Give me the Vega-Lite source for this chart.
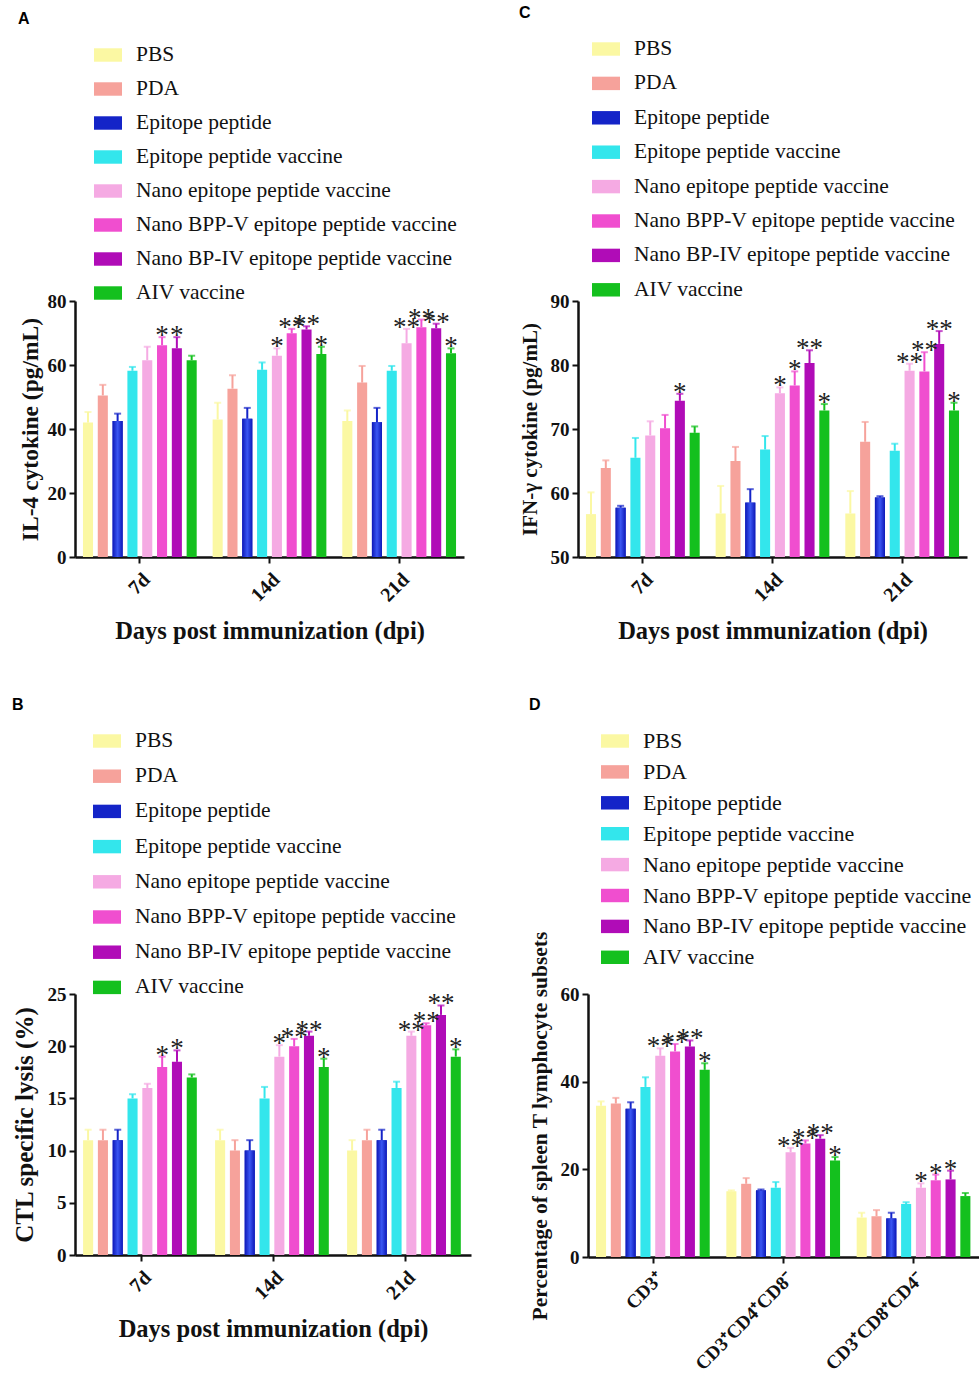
{
  "$schema": "https://vega.github.io/schema/vega-lite/v6.json",
  "background": "white",
  "padding": {"left": 11, "top": 5, "right": 0, "bottom": 0},
  "config": {
    "view": {"stroke": null},
    "font": "Liberation Serif",
    "range": {"category": ["#FBF8A3", "#F6A29B", "#1424C8", "#33E6EC", "#F5AAE3", "#F04ECF", "#B00CB7", "#14C01E"]},
    "axis": {"labelFont": "Liberation Serif", "labelFontWeight": "bold", "labelFontSize": 19, "labelColor": "#111", "titleFont": "Liberation Serif", "titleFontWeight": "bold", "titleFontSize": 21, "titleColor": "#111", "domainColor": "#111", "domainWidth": 2.5, "tickColor": "#111", "tickWidth": 2, "tickSize": 6, "grid": false, "labelPadding": 3},
    "axisY": {"titlePadding": 10},
    "axisX": {"labelAngle": -45, "titlePadding": 14, "labelPadding": 6, "labelFontSize": 20, "titleFontSize": 24.5},
    "legend": {"labelFont": "Liberation Serif", "labelFontSize": 21.5, "labelColor": "#111", "symbolType": "M-1,-0.48H1V0.48H-1Z", "symbolSize": 784, "symbolStrokeWidth": 0, "symbolOpacity": 1, "rowPadding": 9, "labelOffset": 14, "labelLimit": 600, "direction": "vertical"},
    "title": {"font": "Liberation Sans", "fontSize": 16, "fontWeight": "bold", "anchor": "start", "frame": "bounds", "offset": 14, "color": "#000"},
    "text": {"font": "Liberation Serif"}
  },
  "datasets": {
    "d": [
      {"p": "A", "g": "7d", "t": "PBS", "v": 42, "e": 45.3, "s": ""},
      {"p": "A", "g": "7d", "t": "PDA", "v": 50.5, "e": 53.8, "s": ""},
      {"p": "A", "g": "7d", "t": "Epitope peptide", "v": 42.5, "e": 44.8, "s": ""},
      {"p": "A", "g": "7d", "t": "Epitope peptide vaccine", "v": 58.2, "e": 59.4, "s": ""},
      {"p": "A", "g": "7d", "t": "Nano epitope peptide vaccine", "v": 61.5, "e": 65.7, "s": ""},
      {"p": "A", "g": "7d", "t": "Nano BPP-V epitope peptide vaccine", "v": 66.2, "e": 68.7, "s": "*"},
      {"p": "A", "g": "7d", "t": "Nano BP-IV epitope peptide vaccine", "v": 65.2, "e": 68.7, "s": "*"},
      {"p": "A", "g": "7d", "t": "AIV vaccine", "v": 61.5, "e": 62.9, "s": ""},
      {"p": "A", "g": "14d", "t": "PBS", "v": 43, "e": 48.2, "s": ""},
      {"p": "A", "g": "14d", "t": "PDA", "v": 52.6, "e": 56.8, "s": ""},
      {"p": "A", "g": "14d", "t": "Epitope peptide", "v": 43.2, "e": 46.6, "s": ""},
      {"p": "A", "g": "14d", "t": "Epitope peptide vaccine", "v": 58.5, "e": 60.8, "s": ""},
      {"p": "A", "g": "14d", "t": "Nano epitope peptide vaccine", "v": 62.9, "e": 65.2, "s": "*"},
      {"p": "A", "g": "14d", "t": "Nano BPP-V epitope peptide vaccine", "v": 69.9, "e": 71.3, "s": "**"},
      {"p": "A", "g": "14d", "t": "Nano BP-IV epitope peptide vaccine", "v": 71.1, "e": 72.1, "s": "**"},
      {"p": "A", "g": "14d", "t": "AIV vaccine", "v": 63.4, "e": 65.7, "s": "*"},
      {"p": "A", "g": "21d", "t": "PBS", "v": 42.5, "e": 45.8, "s": ""},
      {"p": "A", "g": "21d", "t": "PDA", "v": 54.5, "e": 59.7, "s": ""},
      {"p": "A", "g": "21d", "t": "Epitope peptide", "v": 42.1, "e": 46.6, "s": ""},
      {"p": "A", "g": "21d", "t": "Epitope peptide vaccine", "v": 58.2, "e": 59.7, "s": ""},
      {"p": "A", "g": "21d", "t": "Nano epitope peptide vaccine", "v": 66.8, "e": 71.3, "s": "**"},
      {"p": "A", "g": "21d", "t": "Nano BPP-V epitope peptide vaccine", "v": 71.8, "e": 74.2, "s": "**"},
      {"p": "A", "g": "21d", "t": "Nano BP-IV epitope peptide vaccine", "v": 71.5, "e": 72.9, "s": "**"},
      {"p": "A", "g": "21d", "t": "AIV vaccine", "v": 63.7, "e": 65.2, "s": "*"},
      {"p": "C", "g": "7d", "t": "PBS", "v": 56.7, "e": 60.1, "s": ""},
      {"p": "C", "g": "7d", "t": "PDA", "v": 63.9, "e": 65.1, "s": ""},
      {"p": "C", "g": "7d", "t": "Epitope peptide", "v": 57.7, "e": 58.0, "s": ""},
      {"p": "C", "g": "7d", "t": "Epitope peptide vaccine", "v": 65.5, "e": 68.6, "s": ""},
      {"p": "C", "g": "7d", "t": "Nano epitope peptide vaccine", "v": 69.0, "e": 71.2, "s": ""},
      {"p": "C", "g": "7d", "t": "Nano BPP-V epitope peptide vaccine", "v": 70.1, "e": 72.2, "s": ""},
      {"p": "C", "g": "7d", "t": "Nano BP-IV epitope peptide vaccine", "v": 74.4, "e": 75.5, "s": "*"},
      {"p": "C", "g": "7d", "t": "AIV vaccine", "v": 69.4, "e": 70.4, "s": ""},
      {"p": "C", "g": "14d", "t": "PBS", "v": 56.8, "e": 61.1, "s": ""},
      {"p": "C", "g": "14d", "t": "PDA", "v": 65.0, "e": 67.2, "s": ""},
      {"p": "C", "g": "14d", "t": "Epitope peptide", "v": 58.5, "e": 60.6, "s": ""},
      {"p": "C", "g": "14d", "t": "Epitope peptide vaccine", "v": 66.8, "e": 68.9, "s": ""},
      {"p": "C", "g": "14d", "t": "Nano epitope peptide vaccine", "v": 75.6, "e": 76.5, "s": "*"},
      {"p": "C", "g": "14d", "t": "Nano BPP-V epitope peptide vaccine", "v": 76.8, "e": 79.0, "s": "*"},
      {"p": "C", "g": "14d", "t": "Nano BP-IV epitope peptide vaccine", "v": 80.3, "e": 82.3, "s": "**"},
      {"p": "C", "g": "14d", "t": "AIV vaccine", "v": 72.9, "e": 73.9, "s": "*"},
      {"p": "C", "g": "21d", "t": "PBS", "v": 56.8, "e": 60.3, "s": ""},
      {"p": "C", "g": "21d", "t": "PDA", "v": 68.0, "e": 71.1, "s": ""},
      {"p": "C", "g": "21d", "t": "Epitope peptide", "v": 59.3, "e": 59.5, "s": ""},
      {"p": "C", "g": "21d", "t": "Epitope peptide vaccine", "v": 66.6, "e": 67.7, "s": ""},
      {"p": "C", "g": "21d", "t": "Nano epitope peptide vaccine", "v": 79.1, "e": 80.2, "s": "**"},
      {"p": "C", "g": "21d", "t": "Nano BPP-V epitope peptide vaccine", "v": 79.0, "e": 82.0, "s": "**"},
      {"p": "C", "g": "21d", "t": "Nano BP-IV epitope peptide vaccine", "v": 83.3, "e": 85.3, "s": "**"},
      {"p": "C", "g": "21d", "t": "AIV vaccine", "v": 72.9, "e": 74.1, "s": "*"},
      {"p": "B", "g": "7d", "t": "PBS", "v": 11, "e": 12, "s": ""},
      {"p": "B", "g": "7d", "t": "PDA", "v": 11, "e": 12, "s": ""},
      {"p": "B", "g": "7d", "t": "Epitope peptide", "v": 11, "e": 12, "s": ""},
      {"p": "B", "g": "7d", "t": "Epitope peptide vaccine", "v": 15, "e": 15.4, "s": ""},
      {"p": "B", "g": "7d", "t": "Nano epitope peptide vaccine", "v": 16, "e": 16.4, "s": ""},
      {"p": "B", "g": "7d", "t": "Nano BPP-V epitope peptide vaccine", "v": 18, "e": 19, "s": "*"},
      {"p": "B", "g": "7d", "t": "Nano BP-IV epitope peptide vaccine", "v": 18.5, "e": 19.6, "s": "*"},
      {"p": "B", "g": "7d", "t": "AIV vaccine", "v": 17, "e": 17.3, "s": ""},
      {"p": "B", "g": "14d", "t": "PBS", "v": 11, "e": 12, "s": ""},
      {"p": "B", "g": "14d", "t": "PDA", "v": 10, "e": 11, "s": ""},
      {"p": "B", "g": "14d", "t": "Epitope peptide", "v": 10, "e": 11, "s": ""},
      {"p": "B", "g": "14d", "t": "Epitope peptide vaccine", "v": 15, "e": 16.1, "s": ""},
      {"p": "B", "g": "14d", "t": "Nano epitope peptide vaccine", "v": 19, "e": 20.1, "s": "*"},
      {"p": "B", "g": "14d", "t": "Nano BPP-V epitope peptide vaccine", "v": 20, "e": 20.7, "s": "**"},
      {"p": "B", "g": "14d", "t": "Nano BP-IV epitope peptide vaccine", "v": 21, "e": 21.4, "s": "**"},
      {"p": "B", "g": "14d", "t": "AIV vaccine", "v": 18, "e": 18.8, "s": "*"},
      {"p": "B", "g": "21d", "t": "PBS", "v": 10, "e": 11, "s": ""},
      {"p": "B", "g": "21d", "t": "PDA", "v": 11, "e": 12, "s": ""},
      {"p": "B", "g": "21d", "t": "Epitope peptide", "v": 11, "e": 12, "s": ""},
      {"p": "B", "g": "21d", "t": "Epitope peptide vaccine", "v": 16, "e": 16.6, "s": ""},
      {"p": "B", "g": "21d", "t": "Nano epitope peptide vaccine", "v": 21, "e": 21.4, "s": "**"},
      {"p": "B", "g": "21d", "t": "Nano BPP-V epitope peptide vaccine", "v": 22, "e": 22.2, "s": "**"},
      {"p": "B", "g": "21d", "t": "Nano BP-IV epitope peptide vaccine", "v": 23, "e": 23.9, "s": "**"},
      {"p": "B", "g": "21d", "t": "AIV vaccine", "v": 19, "e": 19.7, "s": "*"},
      {"p": "D", "g": "CD3⁺", "t": "PBS", "v": 34.5, "e": 35.5, "s": ""},
      {"p": "D", "g": "CD3⁺", "t": "PDA", "v": 35, "e": 36.3, "s": ""},
      {"p": "D", "g": "CD3⁺", "t": "Epitope peptide", "v": 33.8, "e": 35.3, "s": ""},
      {"p": "D", "g": "CD3⁺", "t": "Epitope peptide vaccine", "v": 38.8, "e": 41, "s": ""},
      {"p": "D", "g": "CD3⁺", "t": "Nano epitope peptide vaccine", "v": 45.9, "e": 47.6, "s": "**"},
      {"p": "D", "g": "CD3⁺", "t": "Nano BPP-V epitope peptide vaccine", "v": 46.9, "e": 48.6, "s": "**"},
      {"p": "D", "g": "CD3⁺", "t": "Nano BP-IV epitope peptide vaccine", "v": 48, "e": 49.4, "s": "**"},
      {"p": "D", "g": "CD3⁺", "t": "AIV vaccine", "v": 42.7, "e": 44.2, "s": "*"},
      {"p": "D", "g": "CD3⁺CD4⁺CD8⁻", "t": "PBS", "v": 15, "e": 15.2, "s": ""},
      {"p": "D", "g": "CD3⁺CD4⁺CD8⁻", "t": "PDA", "v": 16.7, "e": 18, "s": ""},
      {"p": "D", "g": "CD3⁺CD4⁺CD8⁻", "t": "Epitope peptide", "v": 15.2, "e": 15.4, "s": ""},
      {"p": "D", "g": "CD3⁺CD4⁺CD8⁻", "t": "Epitope peptide vaccine", "v": 15.8, "e": 17.1, "s": ""},
      {"p": "D", "g": "CD3⁺CD4⁺CD8⁻", "t": "Nano epitope peptide vaccine", "v": 23.9, "e": 24.9, "s": "**"},
      {"p": "D", "g": "CD3⁺CD4⁺CD8⁻", "t": "Nano BPP-V epitope peptide vaccine", "v": 25.9, "e": 26.6, "s": "**"},
      {"p": "D", "g": "CD3⁺CD4⁺CD8⁻", "t": "Nano BP-IV epitope peptide vaccine", "v": 27, "e": 27.8, "s": "**"},
      {"p": "D", "g": "CD3⁺CD4⁺CD8⁻", "t": "AIV vaccine", "v": 22, "e": 22.8, "s": "*"},
      {"p": "D", "g": "CD3⁺CD8⁺CD4⁻", "t": "PBS", "v": 9, "e": 10.1, "s": ""},
      {"p": "D", "g": "CD3⁺CD8⁺CD4⁻", "t": "PDA", "v": 9.3, "e": 10.7, "s": ""},
      {"p": "D", "g": "CD3⁺CD8⁺CD4⁻", "t": "Epitope peptide", "v": 8.8, "e": 10.1, "s": ""},
      {"p": "D", "g": "CD3⁺CD8⁺CD4⁻", "t": "Epitope peptide vaccine", "v": 12.1, "e": 12.5, "s": ""},
      {"p": "D", "g": "CD3⁺CD8⁺CD4⁻", "t": "Nano epitope peptide vaccine", "v": 15.8, "e": 16.8, "s": "*"},
      {"p": "D", "g": "CD3⁺CD8⁺CD4⁻", "t": "Nano BPP-V epitope peptide vaccine", "v": 17.5, "e": 18.8, "s": "*"},
      {"p": "D", "g": "CD3⁺CD8⁺CD4⁻", "t": "Nano BP-IV epitope peptide vaccine", "v": 17.7, "e": 19.7, "s": "*"},
      {"p": "D", "g": "CD3⁺CD8⁺CD4⁻", "t": "AIV vaccine", "v": 13.9, "e": 14.6, "s": ""}
    ]
  },
  "data": {"name": "d"},
  "resolve": {"scale": {"color": "independent"}, "legend": {"color": "independent"}},
  "spacing": 54,
  "vconcat": [
    {
      "resolve": {"scale": {"color": "independent"}, "legend": {"color": "independent"}},
      "spacing": 55,
      "hconcat": [
        {
          "title": {"text": "A"},
          "width": 389, "height": 256,
          "transform": [{"filter": "datum.p === 'A'"}],
          "encoding": {
            "x": {"field": "g", "type": "nominal", "sort": ["7d", "14d", "21d"], "scale": {"paddingInner": 0.1, "paddingOuter": 0.05}, "title": "Days post immunization (dpi)"},
            "xOffset": {"field": "t", "type": "nominal", "sort": ["PBS", "PDA", "Epitope peptide", "Epitope peptide vaccine", "Nano epitope peptide vaccine", "Nano BPP-V epitope peptide vaccine", "Nano BP-IV epitope peptide vaccine", "AIV vaccine"], "scale": {"paddingInner": 0.32, "paddingOuter": 0.1}}
          },
          "layer": [
            {"mark": {"type": "bar"}, "encoding": {
              "y": {"field": "v", "type": "quantitative", "scale": {"domain": [0, 80], "nice": false}, "axis": {"values": [0, 20, 40, 60, 80], "titleFontSize": 23.5, "titlePadding": 5}, "title": "IL-4 cytokine (pg/mL)"},
              "color": {"field": "t", "type": "nominal", "sort": ["PBS", "PDA", "Epitope peptide", "Epitope peptide vaccine", "Nano epitope peptide vaccine", "Nano BPP-V epitope peptide vaccine", "Nano BP-IV epitope peptide vaccine", "AIV vaccine"], "legend": {"title": null, "orient": "none", "legendX": 19, "legendY": -260, "rowPadding": 9}}}},
            {"transform": [{"filter": "datum.t === 'Epitope peptide'"}], "mark": {"type": "bar", "color": {"gradient": "linear", "x1": 0, "x2": 1, "y1": 0, "y2": 0, "stops": [{"offset": 0, "color": "#0D18B8"}, {"offset": 0.5, "color": "#3A56F2"}, {"offset": 1, "color": "#0D18B8"}]}}, "encoding": {
              "y": {"field": "v", "type": "quantitative", "title": "IL-4 cytokine (pg/mL)"}}},
            {"mark": {"type": "rule", "strokeWidth": 2}, "encoding": {
              "y": {"field": "v", "type": "quantitative", "title": "IL-4 cytokine (pg/mL)"}, "y2": {"field": "e"},
              "color": {"field": "t", "type": "nominal", "sort": ["PBS", "PDA", "Epitope peptide", "Epitope peptide vaccine", "Nano epitope peptide vaccine", "Nano BPP-V epitope peptide vaccine", "Nano BP-IV epitope peptide vaccine", "AIV vaccine"], "legend": null}}},
            {"mark": {"type": "tick", "thickness": 2, "size": 7}, "encoding": {
              "y": {"field": "e", "type": "quantitative", "title": "IL-4 cytokine (pg/mL)"},
              "color": {"field": "t", "type": "nominal", "sort": ["PBS", "PDA", "Epitope peptide", "Epitope peptide vaccine", "Nano epitope peptide vaccine", "Nano BPP-V epitope peptide vaccine", "Nano BP-IV epitope peptide vaccine", "AIV vaccine"], "legend": null}}},
            {"transform": [{"filter": "datum.s !== ''"}], "mark": {"type": "text", "fontSize": 27, "baseline": "alphabetic", "dy": 7, "color": "#222"}, "encoding": {
              "y": {"field": "e", "type": "quantitative", "title": "IL-4 cytokine (pg/mL)"},
              "text": {"field": "s"}}}
          ]
        },
        {
          "title": {"text": "C"},
          "width": 389, "height": 256,
          "transform": [{"filter": "datum.p === 'C'"}],
          "encoding": {
            "x": {"field": "g", "type": "nominal", "sort": ["7d", "14d", "21d"], "scale": {"paddingInner": 0.1, "paddingOuter": 0.05}, "title": "Days post immunization (dpi)"},
            "xOffset": {"field": "t", "type": "nominal", "sort": ["PBS", "PDA", "Epitope peptide", "Epitope peptide vaccine", "Nano epitope peptide vaccine", "Nano BPP-V epitope peptide vaccine", "Nano BP-IV epitope peptide vaccine", "AIV vaccine"], "scale": {"paddingInner": 0.32, "paddingOuter": 0.1}}
          },
          "layer": [
            {"mark": {"type": "bar"}, "encoding": {
              "y": {"field": "v", "type": "quantitative", "scale": {"domain": [50, 90], "nice": false, "zero": false}, "axis": {"values": [50, 60, 70, 80, 90]}, "title": "IFN-γ cytokine (pg/mL)"},
              "y2": {"datum": 50},
              "color": {"field": "t", "type": "nominal", "sort": ["PBS", "PDA", "Epitope peptide", "Epitope peptide vaccine", "Nano epitope peptide vaccine", "Nano BPP-V epitope peptide vaccine", "Nano BP-IV epitope peptide vaccine", "AIV vaccine"], "legend": {"title": null, "orient": "none", "legendX": 14, "legendY": -266, "rowPadding": 9.4}}}},
            {"transform": [{"filter": "datum.t === 'Epitope peptide'"}], "mark": {"type": "bar", "color": {"gradient": "linear", "x1": 0, "x2": 1, "y1": 0, "y2": 0, "stops": [{"offset": 0, "color": "#0D18B8"}, {"offset": 0.5, "color": "#3A56F2"}, {"offset": 1, "color": "#0D18B8"}]}}, "encoding": {
              "y": {"field": "v", "type": "quantitative", "title": "IFN-γ cytokine (pg/mL)"}, "y2": {"datum": 50}}},
            {"mark": {"type": "rule", "strokeWidth": 2}, "encoding": {
              "y": {"field": "v", "type": "quantitative", "title": "IFN-γ cytokine (pg/mL)"}, "y2": {"field": "e"},
              "color": {"field": "t", "type": "nominal", "sort": ["PBS", "PDA", "Epitope peptide", "Epitope peptide vaccine", "Nano epitope peptide vaccine", "Nano BPP-V epitope peptide vaccine", "Nano BP-IV epitope peptide vaccine", "AIV vaccine"], "legend": null}}},
            {"mark": {"type": "tick", "thickness": 2, "size": 7}, "encoding": {
              "y": {"field": "e", "type": "quantitative", "title": "IFN-γ cytokine (pg/mL)"},
              "color": {"field": "t", "type": "nominal", "sort": ["PBS", "PDA", "Epitope peptide", "Epitope peptide vaccine", "Nano epitope peptide vaccine", "Nano BPP-V epitope peptide vaccine", "Nano BP-IV epitope peptide vaccine", "AIV vaccine"], "legend": null}}},
            {"transform": [{"filter": "datum.s !== ''"}], "mark": {"type": "text", "fontSize": 27, "baseline": "alphabetic", "dy": 7, "color": "#222"}, "encoding": {
              "y": {"field": "e", "type": "quantitative", "title": "IFN-γ cytokine (pg/mL)"},
              "text": {"field": "s"}}}
          ]
        }
      ]
    },
    {
      "resolve": {"scale": {"color": "independent"}, "legend": {"color": "independent"}},
      "spacing": 57,
      "hconcat": [
        {
          "title": {"text": "B"},
          "width": 396, "height": 261,
          "transform": [{"filter": "datum.p === 'B'"}],
          "encoding": {
            "x": {"field": "g", "type": "nominal", "sort": ["7d", "14d", "21d"], "scale": {"paddingInner": 0.1, "paddingOuter": 0.05}, "title": "Days post immunization (dpi)"},
            "xOffset": {"field": "t", "type": "nominal", "sort": ["PBS", "PDA", "Epitope peptide", "Epitope peptide vaccine", "Nano epitope peptide vaccine", "Nano BPP-V epitope peptide vaccine", "Nano BP-IV epitope peptide vaccine", "AIV vaccine"], "scale": {"paddingInner": 0.32, "paddingOuter": 0.1}}
          },
          "layer": [
            {"mark": {"type": "bar"}, "encoding": {
              "y": {"field": "v", "type": "quantitative", "scale": {"domain": [0, 25], "nice": false}, "axis": {"values": [0, 5, 10, 15, 20, 25], "titleFontSize": 25}, "title": "CTL specific  lysis (%)"},
              "color": {"field": "t", "type": "nominal", "sort": ["PBS", "PDA", "Epitope peptide", "Epitope peptide vaccine", "Nano epitope peptide vaccine", "Nano BPP-V epitope peptide vaccine", "Nano BP-IV epitope peptide vaccine", "AIV vaccine"], "legend": {"title": null, "orient": "none", "legendX": 18, "legendY": -267, "rowPadding": 10.2}}}},
            {"transform": [{"filter": "datum.t === 'Epitope peptide'"}], "mark": {"type": "bar", "color": {"gradient": "linear", "x1": 0, "x2": 1, "y1": 0, "y2": 0, "stops": [{"offset": 0, "color": "#0D18B8"}, {"offset": 0.5, "color": "#3A56F2"}, {"offset": 1, "color": "#0D18B8"}]}}, "encoding": {
              "y": {"field": "v", "type": "quantitative", "title": "CTL specific  lysis (%)"}}},
            {"mark": {"type": "rule", "strokeWidth": 2}, "encoding": {
              "y": {"field": "v", "type": "quantitative", "title": "CTL specific  lysis (%)"}, "y2": {"field": "e"},
              "color": {"field": "t", "type": "nominal", "sort": ["PBS", "PDA", "Epitope peptide", "Epitope peptide vaccine", "Nano epitope peptide vaccine", "Nano BPP-V epitope peptide vaccine", "Nano BP-IV epitope peptide vaccine", "AIV vaccine"], "legend": null}}},
            {"mark": {"type": "tick", "thickness": 2, "size": 7}, "encoding": {
              "y": {"field": "e", "type": "quantitative", "title": "CTL specific  lysis (%)"},
              "color": {"field": "t", "type": "nominal", "sort": ["PBS", "PDA", "Epitope peptide", "Epitope peptide vaccine", "Nano epitope peptide vaccine", "Nano BPP-V epitope peptide vaccine", "Nano BP-IV epitope peptide vaccine", "AIV vaccine"], "legend": null}}},
            {"transform": [{"filter": "datum.s !== ''"}], "mark": {"type": "text", "fontSize": 27, "baseline": "alphabetic", "dy": 7, "color": "#222"}, "encoding": {
              "y": {"field": "e", "type": "quantitative", "title": "CTL specific  lysis (%)"},
              "text": {"field": "s"}}}
          ]
        },
        {
          "title": {"text": "D"},
          "width": 391, "height": 263,
          "transform": [{"filter": "datum.p === 'D'"}],
          "encoding": {
            "x": {"field": "g", "type": "nominal", "sort": ["CD3⁺", "CD3⁺CD4⁺CD8⁻", "CD3⁺CD8⁺CD4⁻"], "scale": {"paddingInner": 0.1, "paddingOuter": 0.05}, "title": null, "axis": {"labelFontSize": 19}},
            "xOffset": {"field": "t", "type": "nominal", "sort": ["PBS", "PDA", "Epitope peptide", "Epitope peptide vaccine", "Nano epitope peptide vaccine", "Nano BPP-V epitope peptide vaccine", "Nano BP-IV epitope peptide vaccine", "AIV vaccine"], "scale": {"paddingInner": 0.32, "paddingOuter": 0.1}}
          },
          "layer": [
            {"mark": {"type": "bar"}, "encoding": {
              "y": {"field": "v", "type": "quantitative", "scale": {"domain": [0, 60], "nice": false}, "axis": {"values": [0, 20, 40, 60], "titleFontSize": 21.5, "titlePadding": 9}, "title": "Percentage of spleen T lymphocyte subsets"},
              "color": {"field": "t", "type": "nominal", "sort": ["PBS", "PDA", "Epitope peptide", "Epitope peptide vaccine", "Nano epitope peptide vaccine", "Nano BPP-V epitope peptide vaccine", "Nano BP-IV epitope peptide vaccine", "AIV vaccine"], "legend": {"title": null, "orient": "none", "legendX": 13, "legendY": -267, "rowPadding": 5.9, "labelFontSize": 22}}}},
            {"transform": [{"filter": "datum.t === 'Epitope peptide'"}], "mark": {"type": "bar", "color": {"gradient": "linear", "x1": 0, "x2": 1, "y1": 0, "y2": 0, "stops": [{"offset": 0, "color": "#0D18B8"}, {"offset": 0.5, "color": "#3A56F2"}, {"offset": 1, "color": "#0D18B8"}]}}, "encoding": {
              "y": {"field": "v", "type": "quantitative", "title": "Percentage of spleen T lymphocyte subsets"}}},
            {"mark": {"type": "rule", "strokeWidth": 2}, "encoding": {
              "y": {"field": "v", "type": "quantitative", "title": "Percentage of spleen T lymphocyte subsets"}, "y2": {"field": "e"},
              "color": {"field": "t", "type": "nominal", "sort": ["PBS", "PDA", "Epitope peptide", "Epitope peptide vaccine", "Nano epitope peptide vaccine", "Nano BPP-V epitope peptide vaccine", "Nano BP-IV epitope peptide vaccine", "AIV vaccine"], "legend": null}}},
            {"mark": {"type": "tick", "thickness": 2, "size": 7}, "encoding": {
              "y": {"field": "e", "type": "quantitative", "title": "Percentage of spleen T lymphocyte subsets"},
              "color": {"field": "t", "type": "nominal", "sort": ["PBS", "PDA", "Epitope peptide", "Epitope peptide vaccine", "Nano epitope peptide vaccine", "Nano BPP-V epitope peptide vaccine", "Nano BP-IV epitope peptide vaccine", "AIV vaccine"], "legend": null}}},
            {"transform": [{"filter": "datum.s !== ''"}], "mark": {"type": "text", "fontSize": 27, "baseline": "alphabetic", "dy": 7, "color": "#222"}, "encoding": {
              "y": {"field": "e", "type": "quantitative", "title": "Percentage of spleen T lymphocyte subsets"},
              "text": {"field": "s"}}}
          ]
        }
      ]
    }
  ]
}
